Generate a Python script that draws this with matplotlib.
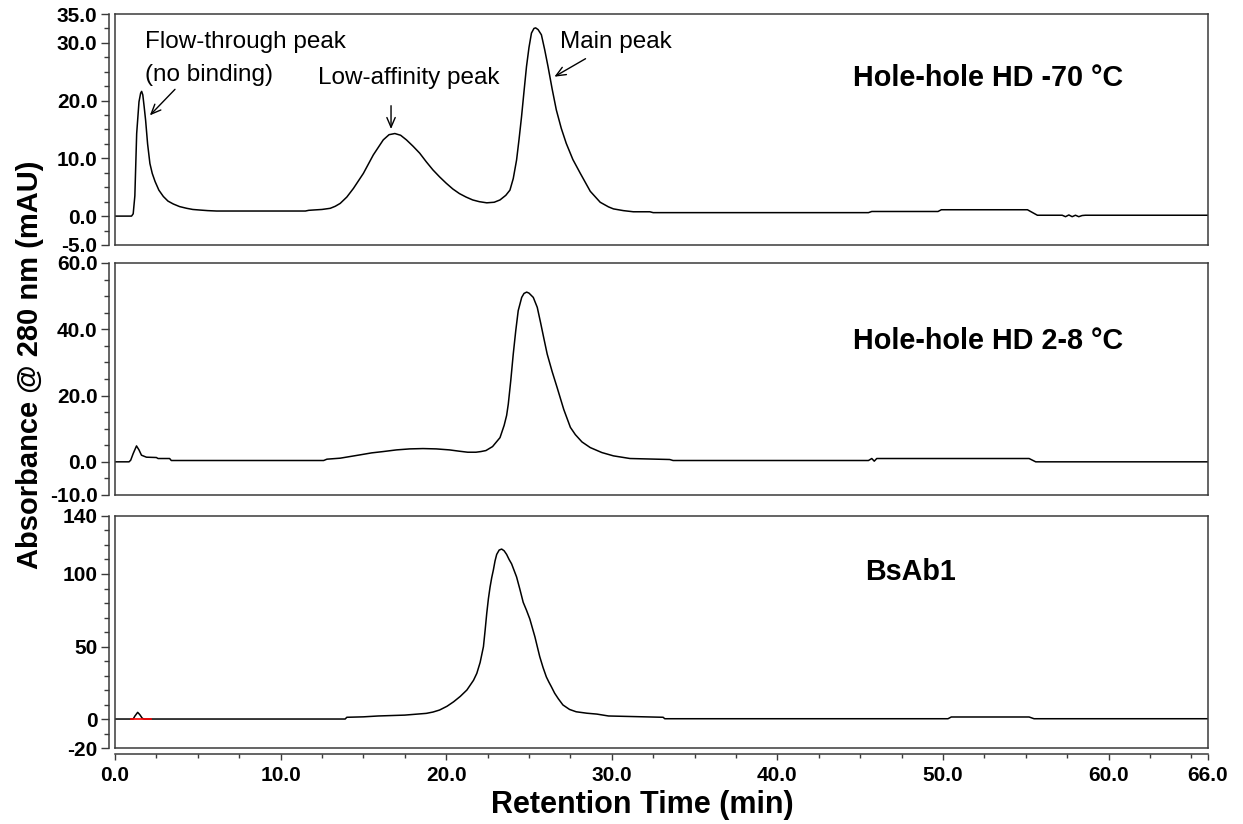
import numpy as np
import matplotlib
matplotlib.use("Agg")
from matplotlib import pyplot as plt
from matplotlib.ticker import FixedLocator, MultipleLocator, FormatStrFormatter

plt.rcParams['font.family'] = ['Liberation Sans', 'DejaVu Sans']

# ---- data (time in min, absorbance in mAU) ----
t_m70 = [0, 1.0, 1.1, 1.2, 1.31, 1.45, 1.55, 1.61, 1.68, 1.76, 1.85, 1.97, 2.11, 2.25, 2.42, 2.65,
         2.92, 3.2, 3.52, 3.9, 4.33, 4.7, 5.13, 5.6, 6.14, 11.5, 11.7, 12.0, 12.5, 13.0, 13.3, 13.6,
         14.0, 14.4, 15.0, 15.6, 16.2, 16.55, 16.9, 17.25, 17.6, 18.0, 18.4, 18.8, 19.2, 19.6, 20.0,
         20.4, 20.8, 21.2, 21.6, 22.0, 22.45, 22.9, 23.25, 23.6, 23.85, 24.05, 24.25, 24.4, 24.55,
         24.7, 24.85, 25.0, 25.15, 25.3, 25.4, 25.55, 25.75, 25.95, 26.15, 26.4, 26.65, 26.95, 27.25,
         27.65, 28.1, 28.7, 29.3, 29.8, 30.1, 30.7, 31.3, 32.3, 32.5, 45.5, 45.7, 49.7, 49.9, 55.1,
         55.7, 57.2, 57.4, 57.6, 57.8, 58.0, 58.2, 58.4, 58.6, 66.0]
a_m70 = [0, 0, 0.4, 3.5, 14.3, 19.8, 21.3, 21.6, 21.0, 19.0, 16.6, 12.5, 9.1, 7.4, 6.0, 4.5,
         3.4, 2.6, 2.1, 1.65, 1.35, 1.15, 1.05, 0.95, 0.88, 0.88, 1.0, 1.06, 1.15, 1.35, 1.7, 2.2,
         3.3, 4.8, 7.4, 10.6, 13.2, 14.1, 14.3, 14.0, 13.2, 12.1, 10.9, 9.4, 8.0, 6.8, 5.7,
         4.7, 3.9, 3.3, 2.8, 2.5, 2.3, 2.4, 2.8, 3.6, 4.5, 6.5, 9.7, 13.3, 17.2,
         21.6, 25.9, 29.2, 31.7, 32.5, 32.6, 32.3, 31.4, 28.8, 25.9, 22.0, 18.4, 15.2, 12.6,
         9.8, 7.4, 4.3, 2.4, 1.6, 1.25, 0.95, 0.75, 0.75, 0.6, 0.6, 0.8, 0.8, 1.1, 1.1,
         0.15, 0.15, -0.1, 0.2, -0.1, 0.15, -0.1, 0.1, 0.15, 0.15]

t_28 = [0, 0.85, 0.95, 1.1, 1.3, 1.45, 1.6, 1.9, 2.5, 2.6, 3.3, 3.4, 12.6, 12.8, 13.6, 14.2, 14.8,
        15.5, 16.2, 17.0, 17.8, 18.6, 19.4, 20.2, 20.8, 21.3, 21.8, 22.1, 22.4, 22.8, 23.25, 23.5,
        23.65, 23.75, 23.9, 24.05, 24.2, 24.35, 24.56, 24.7, 24.86, 25.0, 25.26, 25.5, 25.7, 25.9,
        26.1, 26.4, 26.7, 27.1, 27.5, 27.8, 28.2, 28.7, 29.4, 30.1, 31.1, 33.5, 33.7, 45.5, 45.7,
        45.85, 46.0, 55.2, 55.6, 66.0]
a_28 = [0, 0, 0.5, 2.5, 4.8, 3.6, 2.0, 1.4, 1.3, 1.0, 1.0, 0.4, 0.4, 0.8, 1.1, 1.6, 2.1,
        2.7, 3.1, 3.6, 3.9, 4.0, 3.9, 3.6, 3.2, 2.9, 2.9, 3.1, 3.4, 4.6, 7.3, 11.0,
        14.0, 17.4, 24.5, 32.5, 39.5, 45.6, 49.6, 50.8, 51.2, 50.9, 49.6, 46.6, 42.0, 37.2,
        32.5, 27.2, 22.4, 15.8, 10.4, 8.2, 6.0, 4.3, 2.8, 1.8, 1.0, 0.7, 0.4, 0.4, 1.0,
        0.2, 1.0, 1.0, 0.0, 0.0]

t_bs = [0, 1.1, 1.2, 1.37, 1.5, 1.65, 1.75, 13.9, 14.0, 15.0, 15.9, 17.5, 18.8, 19.2, 19.6, 20.05,
        20.45, 20.85, 21.25, 21.65, 21.85, 22.05, 22.25, 22.35, 22.45, 22.55, 22.65, 22.75, 22.85,
        22.95, 23.05, 23.2, 23.35, 23.5, 23.65, 23.8, 23.95, 24.1, 24.25, 24.45, 24.65, 24.85,
        25.05, 25.2, 25.36, 25.5, 25.65, 25.85, 26.05, 26.2, 26.35, 26.55, 26.77, 27.05, 27.45,
        27.85, 28.5, 29.1, 29.8, 33.1, 33.2, 50.3, 50.5, 55.2, 55.5, 66.0]
a_bs = [0, 0, 2.0, 4.6, 3.0, 0.5, 0, 0, 1.2, 1.5, 2.1, 2.7, 3.9, 4.8, 6.2, 8.8,
        11.9, 15.6, 20.0, 26.7, 31.5, 39.0, 49.9, 61.0, 72.9, 83.0, 91.0, 97.5, 102.8,
        109.0, 113.5, 116.5, 117.2, 116.0, 113.5, 110.0, 107.0, 102.5, 98.0, 89.5, 80.5, 75.0,
        69.0, 63.0, 56.6, 50.0, 43.0, 35.5, 29.0, 25.5, 22.3, 17.8, 14.0, 9.7, 6.6,
        5.0, 4.0, 3.4, 2.1, 1.2, 0.2, 0.2, 1.4, 1.4, 0.2, 0.2]

# integration baseline marker (red) on the BsAb1 trace
t_base = [0.97, 2.2]
a_base = [0, 0]

x_ticks = [0, 10, 20, 30, 40, 50, 60, 66]

fig = plt.figure(figsize=(12.43, 8.24), dpi=100)
left, width = 0.0925, 0.8793
ax1 = fig.add_axes([left, 0.7027, width, 0.2803])
ax2 = fig.add_axes([left, 0.3993, width, 0.2816])
ax3 = fig.add_axes([left, 0.0922, width, 0.2816])

frame_col = '#3a3a3a'
panels = [
    (ax1, t_m70, a_m70, (-5, 35), [-5, 0, 10, 20, 30, 35], 2.5, '%.1f'),
    (ax2, t_28, a_28, (-10, 60), [-10, 0, 20, 40, 60], 5, '%.1f'),
    (ax3, t_bs, a_bs, (-20, 140), [-20, 0, 50, 100, 140], 10, '%d'),
]
for ax, t, a, lim, yt, ym, fmt in panels:
    ax.plot(t, a, color='black', lw=1.1)
    ax.set_xlim(0, 66)
    ax.set_ylim(*lim)
    ax.yaxis.set_major_locator(FixedLocator(yt))
    ax.yaxis.set_minor_locator(MultipleLocator(ym))
    ax.yaxis.set_major_formatter(FormatStrFormatter(fmt))
    for s in ax.spines.values():
        s.set_color(frame_col)
        s.set_linewidth(1.1)
    ax.spines['left'].set_position(('outward', 4.5))
    ax.axvline(0, color=frame_col, lw=1.1, clip_on=False)
    ax.tick_params(axis='y', which='major', direction='out', length=6, width=1,
                   color=frame_col, labelsize=15, pad=2)
    ax.tick_params(axis='y', which='minor', direction='out', length=3.5, width=1, color=frame_col)
    for lb in ax.get_yticklabels():
        lb.set_fontweight('bold')

for ax in (ax1, ax2):
    ax.tick_params(axis='x', which='both', bottom=False, labelbottom=False)

ax3.plot(t_base, a_base, color='red', lw=1.2)
ax3.spines['bottom'].set_position(('outward', 4.5))
ax3.axhline(-20, color=frame_col, lw=1.1, clip_on=False)
ax3.xaxis.set_major_locator(FixedLocator(x_ticks))
ax3.xaxis.set_minor_locator(MultipleLocator(2.5))
ax3.xaxis.set_major_formatter(FormatStrFormatter('%.1f'))
ax3.tick_params(axis='x', which='major', direction='out', length=4.5, width=1,
                color=frame_col, labelsize=15, pad=4)
ax3.tick_params(axis='x', which='minor', direction='out', length=3, width=1, color=frame_col)
for lb in ax3.get_xticklabels():
    lb.set_fontweight('bold')

# annotations on the top trace
arrow = dict(arrowstyle='->,head_length=0.7,head_width=0.3', lw=1, color='black')
ax1.text(1.81, 30.2, "Flow-through peak", fontsize=17.5, ha='left', va='center')
ax1.text(1.81, 24.4, "(no binding)", fontsize=17.5, ha='left', va='center')
ax1.annotate("", xy=(1.99, 17.1), xytext=(3.74, 22.3), arrowprops=arrow)
ax1.text(17.75, 23.9, "Low-affinity peak", fontsize=17.5, ha='center', va='center')
ax1.annotate("", xy=(16.67, 14.6), xytext=(16.67, 19.6), arrowprops=arrow)
ax1.text(26.87, 30.1, "Main peak", fontsize=17.5, ha='left', va='center')
ax1.annotate("", xy=(26.39, 23.9), xytext=(28.56, 27.5), arrowprops=arrow)

ax1.text(44.57, 23.9, "Hole-hole HD -70 °C", fontsize=20.7, fontweight='bold', ha='left', va='center')
ax2.text(44.57, 36.5, "Hole-hole HD 2-8 °C", fontsize=20.7, fontweight='bold', ha='left', va='center')
ax3.text(45.3, 101.2, "BsAb1", fontsize=20.7, fontweight='bold', ha='left', va='center')

fig.text(0.024, 0.557, "Absorbance @ 280 nm (mAU)", fontsize=21, fontweight='bold',
         rotation=90, ha='center', va='center')
fig.text(0.517, 0.023, "Retention Time (min)", fontsize=22, fontweight='bold',
         ha='center', va='center')

fig.savefig("out.png", dpi=100)
